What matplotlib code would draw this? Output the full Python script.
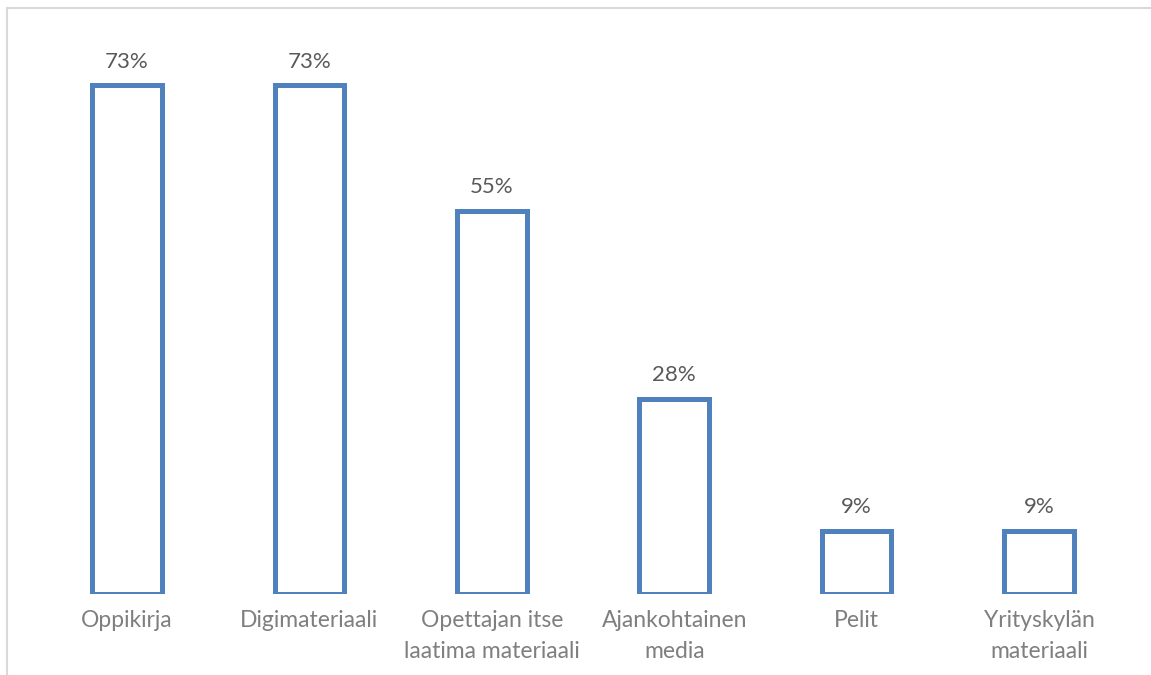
import matplotlib
matplotlib.use("Agg")
import matplotlib.pyplot as plt
from matplotlib.lines import Line2D

categories = ["Oppikirja", "Digimateriaali", "Opettajan itse\nlaatima materiaali",
              "Ajankohtainen\nmedia", "Pelit", "Yrityskylän\nmateriaali"]
values = [73, 73, 55, 28, 9, 9]
value_labels = ["73%", "73%", "55%", "28%", "9%", "9%"]

plt.rcParams['font.family'] = ['Lato', 'DejaVu Sans']

W, H = 1151, 675
fig = plt.figure(figsize=(W / 100, H / 100), dpi=100)
fig.patch.set_facecolor("white")

# plot area in pixel coordinates
left_px, right_px = 35.8, 1130.2
top_px, bottom_px = 36.7, 593.5
ax = fig.add_axes([left_px / W, 1 - bottom_px / H,
                   (right_px - left_px) / W, (bottom_px - top_px) / H])

x = list(range(len(categories)))
ax.bar(x, values, width=0.381, facecolor="white", edgecolor="#4F81BD",
       linewidth=3.6, zorder=3)

for xi, v, lab in zip(x, values, value_labels):
    ax.annotate(lab, (xi, v), xytext=(0, 10), textcoords="offset points",
                ha="center", va="bottom", fontsize=16, color="#595959")

ax.set_xlim(-0.5, len(categories) - 0.5)
ax.set_ylim(0, 80)
ax.set_xticks(x)
ax.set_xticklabels(categories, fontsize=16.5, color="#7F7F7F", linespacing=1.6)
ax.tick_params(axis="x", length=0, pad=12)
ax.set_yticks([])
for s in ax.spines.values():
    s.set_visible(False)

# light frame on the top and left edges of the chart area
fig.add_artist(Line2D([7 / W, 1], [1 - 8 / H, 1 - 8 / H], color="#D9D9D9",
                      linewidth=1.5, transform=fig.transFigure))
fig.add_artist(Line2D([7 / W, 7 / W], [0, 1 - 8 / H], color="#D9D9D9",
                      linewidth=1.5, transform=fig.transFigure))

fig.savefig("out.png", dpi=100, facecolor="white")
